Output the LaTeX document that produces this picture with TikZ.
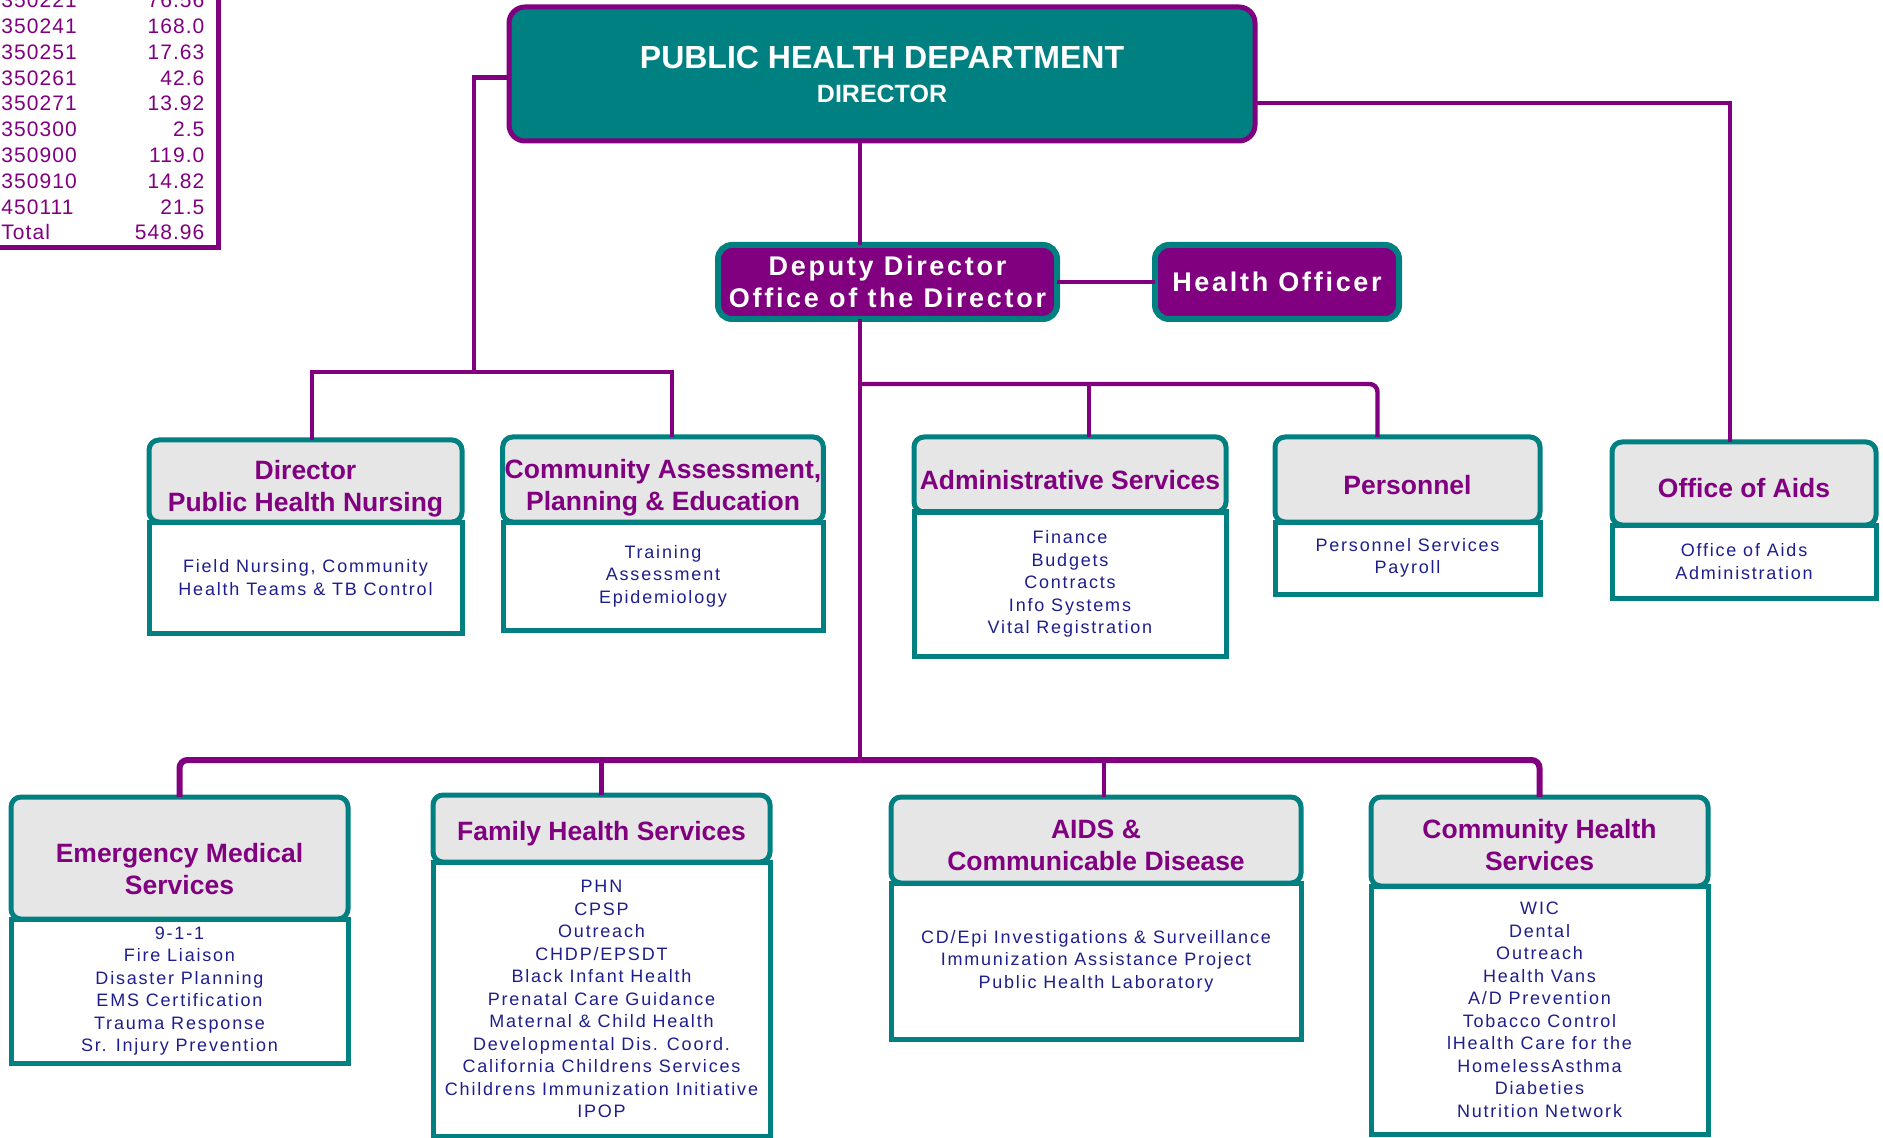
\documentclass[tikz,border=0pt]{standalone}
\usepackage{fontspec}
\setmainfont{Liberation Sans}
\newfontfamily\taskfont[LetterSpace=10]{Liberation Sans}
\newfontfamily\chieffont[LetterSpace=10]{Liberation Sans}
\newfontfamily\ledgerfont[LetterSpace=5]{Liberation Sans}
\definecolor{chartteal}{RGB}{0,128,128}
\definecolor{chartpurple}{RGB}{128,0,128}
\definecolor{headgrey}{RGB}{230,230,230}
\definecolor{tasknavy}{RGB}{30,30,140}
% unit name, set a little low in its header
\newcommand\unitname[2][3pt]{\raisebox{-#1}[\height][\depth]{\begin{tabular}{@{}c@{}}#2\end{tabular}}}

\begin{document}
\begin{tikzpicture}[x=0.5pt, y=-0.5pt]
\path[use as bounding box, fill=white] (0,0) rectangle (1883,1138);
\tikzset{link/.style ={draw=chartpurple, line width=2.2pt}}
\tikzset{unit/.style ={draw=chartteal, fill=headgrey, line width=2.5pt, rounded corners=5pt, outer sep=0pt, inner sep=1pt, text=chartpurple, font=\bfseries\fontsize{13.25}{16}\selectfont}}
\tikzset{tasks/.style ={draw=chartteal, fill=white, line width=2.5pt, outer sep=0pt, anchor=north, text=tasknavy, font=\taskfont\fontsize{9}{11.25}\selectfont, align=center}}
\tikzset{office/.style ={draw=chartteal, fill=chartpurple, line width=3pt, rounded corners=7pt, outer sep=0pt, minimum height=37pt, text=white, font=\chieffont\bfseries\fontsize{13.5}{16}\selectfont, align=center}}
% budget table
\node[anchor=south west, inner sep=0pt, text=chartpurple, font=\ledgerfont\fontsize{10.5}{12.9}\selectfont] (budget) at (1,248)
  {\begin{tabular*}{101.5pt}{@{}l@{\extracolsep{\fill}}r@{}}
  350221 & 76.56\\ 350241 & 168.0\\ 350251 & 17.63\\ 350261 & 42.6\\ 350271 & 13.92\\
  350300 & 2.5\\ 350900 & 119.0\\ 350910 & 14.82\\ 450111 & 21.5\\ Total & 548.96
  \end{tabular*}};
\draw[chartpurple, line width=2.5pt] (218,0) |- (0,248);
% top
\node[draw=chartpurple, fill=chartteal, line width=2.5pt, rounded corners=8pt, outer sep=0pt, minimum width=373pt, minimum height=67pt, text=white, font=\bfseries\fontsize{12.5}{17}\selectfont, align=center] (phd) at (882,74)
  {{\fontsize{16}{17}\selectfont PUBLIC HEALTH DEPARTMENT}\\DIRECTOR};
\node[office, minimum width=169.5pt] (dep) at (887.5,282) {Deputy Director\\Office of the Director};
\node[office, minimum width=122pt] (ho) at (1277,282) {Health Officer};
% middle row
\node[unit, minimum width=156.5pt, minimum height=41pt] (phn) at (305.5,481) {\unitname[4pt]{Director\\Public Health Nursing}};
\node[tasks, minimum width=156.5pt, minimum height=55.5pt] (phnlist) at (phn.south) {Field Nursing, Community\\Health Teams \& TB Control};
\node[unit, minimum width=160pt, minimum height=42.5pt] (cape) at (663,479.5) {\unitname[4.5pt]{Community Assessment,\\Planning \& Education}};
\node[tasks, minimum width=160pt, minimum height=54pt] (capelist) at (cape.south) {Training\\Assessment\\Epidemiology};
\node[unit, minimum width=156pt, minimum height=37.5pt] (adm) at (1070,474.5) {\unitname[4.5pt]{Administrative Services}};
\node[tasks, minimum width=156pt, minimum height=72pt] (admlist) at (adm.south) {Finance\\Budgets\\Contracts\\Info Systems\\Vital Registration};
\node[unit, minimum width=132.5pt, minimum height=42.5pt] (pers) at (1407.5,479.5) {\unitname[4.5pt]{Personnel}};
\node[tasks, minimum width=132.5pt, minimum height=36pt] (perslist) at (pers.south) {Personnel Services\\Payroll};
\node[unit, minimum width=132pt, minimum height=41.5pt] (aids) at (1744,483.5) {\unitname[4pt]{Office of Aids}};
\node[tasks, minimum width=132pt, minimum height=36.5pt] (aidslist) at (aids.south) {Office of Aids\\Administration};
% bottom row
\node[unit, minimum width=168.5pt, minimum height=61pt] (ems) at (179.5,858) {\unitname[6.8pt]{Emergency Medical\\Services}};
\node[tasks, minimum width=168.5pt, minimum height=72pt] (emslist) at (ems.south) {9-1-1\\Fire Liaison\\Disaster Planning\\EMS Certification\\Trauma Response\\Sr. Injury Prevention};
\node[unit, minimum width=168.5pt, minimum height=33.5pt] (fam) at (601.5,828.5) {\unitname[2.7pt]{Family Health Services}};
\node[tasks, minimum width=168.5pt, minimum height=137pt] (famlist) at (fam.south) {PHN\\CPSP\\Outreach\\CHDP/EPSDT\\Black Infant Health\\Prenatal Care Guidance\\Maternal \& Child Health\\Developmental Dis. Coord.\\California Childrens Services\\Childrens Immunization Initiative\\IPOP};
\node[unit, minimum width=205pt, minimum height=43pt] (acd) at (1096,840) {\unitname[4pt]{AIDS \&\\Communicable Disease}};
\node[tasks, minimum width=205pt, minimum height=78pt] (acdlist) at (acd.south) {CD/Epi Investigations \& Surveillance\\Immunization Assistance Project\\Public Health Laboratory};
\node[unit, minimum width=168.5pt, minimum height=44.5pt] (chs) at (1539.5,841.5) {\unitname[3.2pt]{Community Health\\Services}};
\node[tasks, minimum width=168.5pt, minimum height=124pt] (chslist) at (chs.south) {WIC\\Dental\\Outreach\\Health Vans\\A/D Prevention\\Tobacco Control\\lHealth Care for the\\HomelessAsthma\\Diabeties\\Nutrition Network};
% connectors
\coordinate (hub) at (860,760);
\coordinate (nhub) at (474,372);
\coordinate (abar) at (860,384);
\draw[link] (phd.south -| hub) -- (dep.north -| hub);
\draw[link] (dep.south -| hub) -- (hub);
\draw[link] (dep.east) -- (ho.west);
\draw[link] ([yshift=-1.8pt]phd.west) -| (nhub);
\draw[link] ([xshift=3.25pt]phn.north) |- (nhub) -| ([xshift=4.5pt]cape.north);
\draw[link] ([xshift=9.5pt]adm.north) |- (abar);
\draw[link, rounded corners=4pt] (abar) -| ([xshift=-15pt]pers.north);
\draw[link] ([yshift=-14.5pt]phd.east) -| ([xshift=-7pt]aids.north);
\draw[link, line width=3pt, rounded corners=4pt] (ems.north) |- (hub) -| (chs.north);
\draw[link] (fam.north) |- (hub);
\draw[link] ([xshift=4pt]acd.north) |- (hub);
\end{tikzpicture}
\end{document}
